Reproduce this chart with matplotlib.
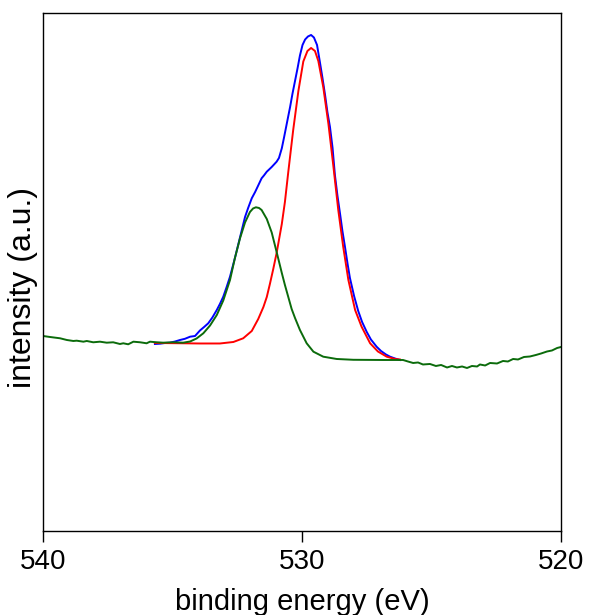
import matplotlib
matplotlib.use("Agg")
import matplotlib.pyplot as plt

plt.rcParams['font.family'] = ['Liberation Sans', 'DejaVu Sans']

# measured spectrum (blue)
e_meas = [535.68, 535.48, 535.29, 535.10, 534.90, 534.71, 534.52, 534.32, 534.13,
          533.94, 533.78, 533.62, 533.46, 533.29, 533.17, 533.04, 532.91, 532.78,
          532.59, 532.39, 532.20, 532.08, 531.94, 531.81, 531.70, 531.56, 531.47,
          531.36, 531.27, 531.17, 531.08, 530.98, 530.89, 530.78, 530.69, 530.56,
          530.46, 530.37, 530.27, 530.17, 530.08, 529.98, 529.88, 529.77, 529.65,
          529.54, 529.42, 529.31, 529.21, 529.11, 529.02, 528.92, 528.82, 528.73,
          528.63, 528.53, 528.44, 528.34, 528.24, 528.15, 527.99, 527.83, 527.68,
          527.50, 527.34, 527.12, 526.95, 526.76, 526.60, 526.41, 526.22]
i_meas = [187, 187.3, 188, 188.3, 189.5, 191, 192.2, 194.3, 195,
          200.5, 204, 207.7, 213.5, 221, 227, 234.3, 244, 254.3,
          273, 294, 314, 323, 332.7, 339, 345, 352.7, 355.5,
          359.3, 361.5, 364, 366.5, 369.3, 373, 382.7, 394, 411,
          424, 437, 450, 463, 475.5, 486, 491.5, 494.5, 496,
          493.5, 486, 469, 453, 436, 419, 404, 383, 356,
          335, 317, 300, 284, 267, 253, 235, 220, 209,
          199, 191.5, 184.3, 180, 176.5, 174.3, 172.5, 171]

# component 1 + background (red)
e_red = [535.68, 534.59, 533.94, 533.17, 532.65, 532.27, 531.94, 531.69, 531.49,
         531.36, 531.24, 531.11, 530.98, 530.78, 530.66, 530.53, 530.44, 530.34,
         530.14, 529.95, 529.79, 529.65, 529.50, 529.37, 529.18, 528.98, 528.79,
         528.60, 528.41, 528.21, 527.95, 527.70, 527.37, 527.07, 526.73, 526.41,
         526.22]
i_red = [188, 187.7, 187.5, 187.5, 189, 192.7, 200, 212, 224,
         234, 247, 262, 278, 307, 329, 359, 379, 401,
         440, 469.5, 480, 483, 480, 470, 444, 407, 365,
         321, 284.3, 251, 221, 204.3, 187.7, 179.5, 174.3, 172,
         171.5]

# component 2 + background, raw background outside the fit window (green)
e_green = [540.00, 539.73, 539.34, 539.08, 538.83, 538.70, 538.44, 538.31, 538.06,
           537.80, 537.54, 537.29, 537.03, 536.90, 536.71, 536.51, 536.25, 536.00,
           535.87, 535.61, 535.36, 534.97, 534.59, 534.32, 534.07, 533.81, 533.55,
           533.29, 533.04, 532.78, 532.59, 532.39, 532.20, 532.01, 531.89, 531.78,
           531.66, 531.56, 531.36, 531.17, 530.98, 530.78, 530.66, 530.53, 530.40,
           530.27, 530.08, 529.82, 529.56, 529.18, 528.66, 528.02, 526.87, 526.22,
           526.10, 525.91, 525.71, 525.52, 525.33, 525.06, 524.83, 524.63, 524.40,
           524.21, 524.02, 523.82, 523.63, 523.44, 523.24, 523.13, 522.93, 522.74,
           522.47, 522.24, 522.05, 521.85, 521.66, 521.43, 521.20, 520.97, 520.77,
           520.54, 520.35, 520.15, 520.00]
i_green = [195, 194, 192.7, 191, 190, 190.3, 189.3, 190, 188.7,
           189.3, 188.3, 188.7, 187, 187.7, 186.7, 189.3, 188.7, 187.7,
           189.3, 188.7, 188.3, 188.7, 188.3, 189.5, 192.5, 197.7, 205.5,
           216, 230.5, 251, 273, 293, 308.5, 319, 322.5, 323.7,
           323, 321, 312, 298.5, 279, 258, 246, 234, 222,
           213, 201, 187.7, 179.3, 174.3, 172, 171.2, 171, 171,
           171, 169.5, 168, 168.5, 166.5, 167, 165, 166, 163.5,
           165, 163.5, 164.5, 163, 165, 164.5, 166.5, 165.5, 168,
           167.5, 170, 169.5, 172, 171.5, 174, 174.5, 176, 177.5,
           179.5, 180.5, 183, 184]

fig = plt.figure(figsize=(5.89, 6.15), dpi=100)
ax = fig.add_axes([0.073, 0.1366, 0.8795, 0.8423])

ax.plot(e_meas, i_meas, color='#0000ff', lw=1.4)
ax.plot(e_red, i_red, color='#ff0000', lw=1.4)
ax.plot(e_green, i_green, color='#0b6b0b', lw=1.4)

ax.set_xlim(540, 520)
ax.set_ylim(0, 518)
ax.set_xticks([540, 530, 520])
ax.set_yticks([])
ax.tick_params(axis='x', direction='out', length=8, width=1, pad=5, labelsize=20)
for s in ax.spines.values():
    s.set_linewidth(1.0)
ax.set_xlabel("binding energy (eV)", fontsize=21, labelpad=9)
ax.set_ylabel("intensity (a.u.)", fontsize=23)
ax.yaxis.set_label_coords(-0.01, 0.47)

fig.savefig("out.png", dpi=100)
